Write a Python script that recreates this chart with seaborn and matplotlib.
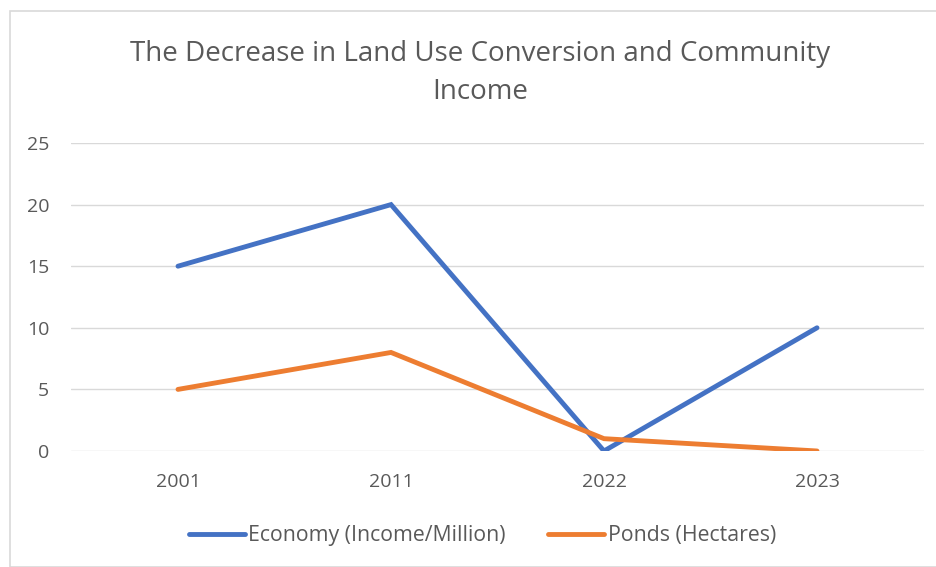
import matplotlib
matplotlib.use("Agg")
import matplotlib.pyplot as plt
import seaborn as sns
import pandas as pd
from matplotlib.patches import Rectangle

years = ["2001", "2011", "2022", "2023"]
economy = [15, 20, 0, 10]
ponds = [5, 8, 1, 0]
series_names = ["Economy (Income/Million)", "Ponds (Hectares)"]
yticks = [0, 5, 10, 15, 20, 25]

df = pd.DataFrame({
    "Year": years * 2,
    "Value": economy + ponds,
    "Series": [series_names[0]] * len(years) + [series_names[1]] * len(years),
})

sns.set_theme(style="white")
plt.rcParams['font.family'] = ['Open Sans', 'DejaVu Sans']
txt = "#595959"

fig = plt.figure(figsize=(9.37, 5.67), dpi=100)
ax = fig.add_axes([0.0763, 0.2046, 0.9093, 0.5432])
pos = {y: i for i, y in enumerate(years)}
df["x"] = df["Year"].map(pos)
sns.lineplot(data=df, x="x", y="Value", hue="Series",
             palette=["#4472C4", "#ED7D31"], linewidth=3.5, ax=ax,
             sort=False, legend=True)
for l in ax.lines:
    l.set_solid_capstyle("round")
    l.set_solid_joinstyle("miter")

ax.set_xlim(-0.5, len(years) - 0.5)
ax.set_ylim(0, 25)
ax.set_xticks(range(len(years)))
ax.set_xticklabels(years)
ax.set_yticks(yticks)
ax.yaxis.grid(True, color="#D9D9D9", linewidth=1)
ax.xaxis.grid(False)
ax.set_axisbelow(True)
for s in ax.spines.values():
    s.set_visible(False)
ax.tick_params(axis="both", length=0, labelsize=14, colors=txt)
ax.tick_params(axis="x", pad=16)
ax.tick_params(axis="y", pad=16)
ax.set_xlabel("")
ax.set_ylabel("")

leg = ax.legend(loc="center", bbox_to_anchor=(0.482, -0.276), ncol=2,
                frameon=False, fontsize=15.3, handlelength=2.65,
                columnspacing=2.0, handletextpad=0.15)
for t in leg.get_texts():
    t.set_color(txt)
for h in leg.get_lines():
    h.set_linewidth(3.5)
    h.set_solid_capstyle("round")

fig.text(0.512, 0.871, "The Decrease in Land Use Conversion and Community\nIncome",
         ha="center", va="center", fontsize=20, color=txt, linespacing=1.45)

fig.patches.append(Rectangle((10 / 937, 0.0), 1.0, 1 - 11 / 567,
                             transform=fig.transFigure, fill=False,
                             edgecolor="#D9D9D9", linewidth=1.2))

fig.savefig("out.png", dpi=100, facecolor="white")
